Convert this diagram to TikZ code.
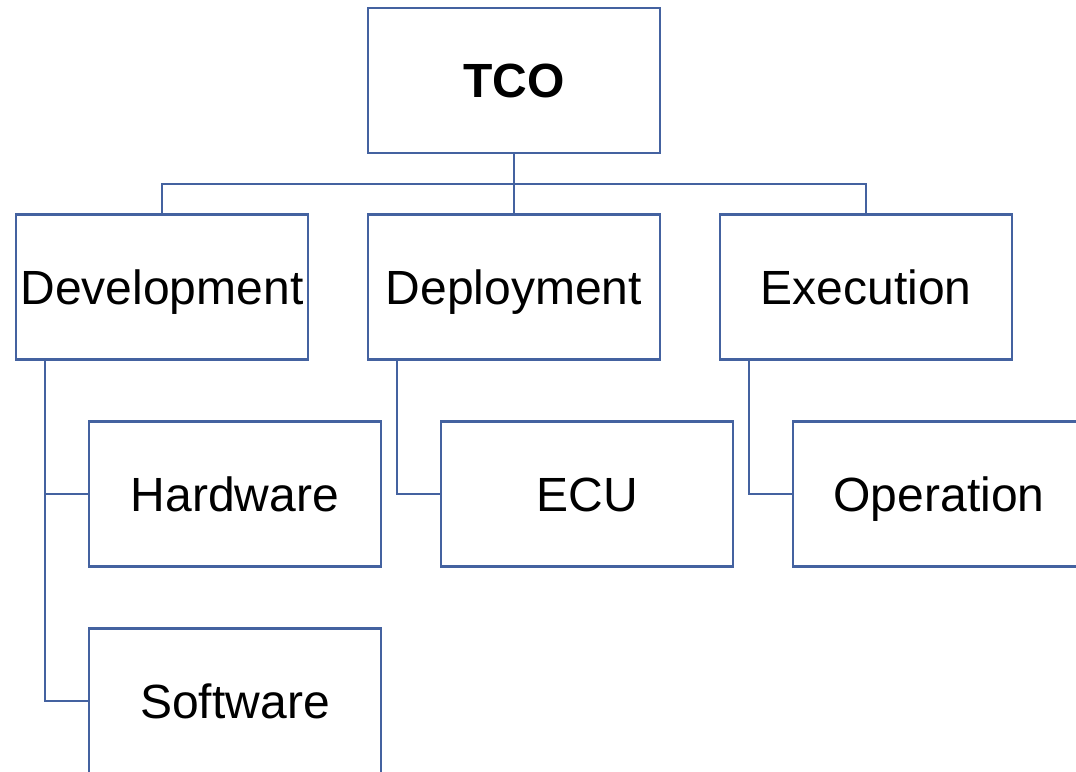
\documentclass[tikz,border=0pt]{standalone}
\usepackage{fontspec}
\setmainfont{Liberation Sans}
\definecolor{boxline}{RGB}{68,98,160}
\tikzset{
  costbox/.style={draw=boxline,line width=1.2pt,fill=white,minimum width=146pt,
    minimum height=72.5pt,inner sep=0pt,text height=17.2pt,text depth=0pt,
    font=\fontsize{24}{28}\selectfont},
  link/.style={draw=boxline,line width=1.2pt}
}
\begin{document}
\begin{tikzpicture}[x=0.5pt,y=-0.5pt]
        %% Frame
        \useasboundingbox (0,0) rectangle (1076,771);
        \clip (0,0) rectangle (1076,771);
        %% Root
        \node[costbox] (tco) at (514,80.5) {\textbf{TCO}};
        %% Phases
        \node[costbox] (dev) at (162,287) {Development};
        \node[costbox] (dep) at (514,287) {Deployment};
        \node[costbox] (exe) at (866,287) {Execution};
        %% Items
        \node[costbox] (hw) at (235,494) {Hardware};
        \node[costbox] (sw) at (235,701) {Software};
        \node[costbox] (ecu) at (587,494) {ECU};
        \node[costbox] (op) at (939,494) {Operation};
        %% Links
        \coordinate (bar) at (514,184);
        \draw[link] (tco.south) -- (dep.north);
        \draw[link] (dev.north) |- (bar) -| (exe.north);
        \draw[link] ([xshift=15pt]dev.south west) |- (hw.west);
        \draw[link] ([xshift=15pt]dev.south west) |- (sw.west);
        \draw[link] ([xshift=15pt]dep.south west) |- (ecu.west);
        \draw[link] ([xshift=15pt]exe.south west) |- (op.west);
    \end{tikzpicture}
\end{document}
